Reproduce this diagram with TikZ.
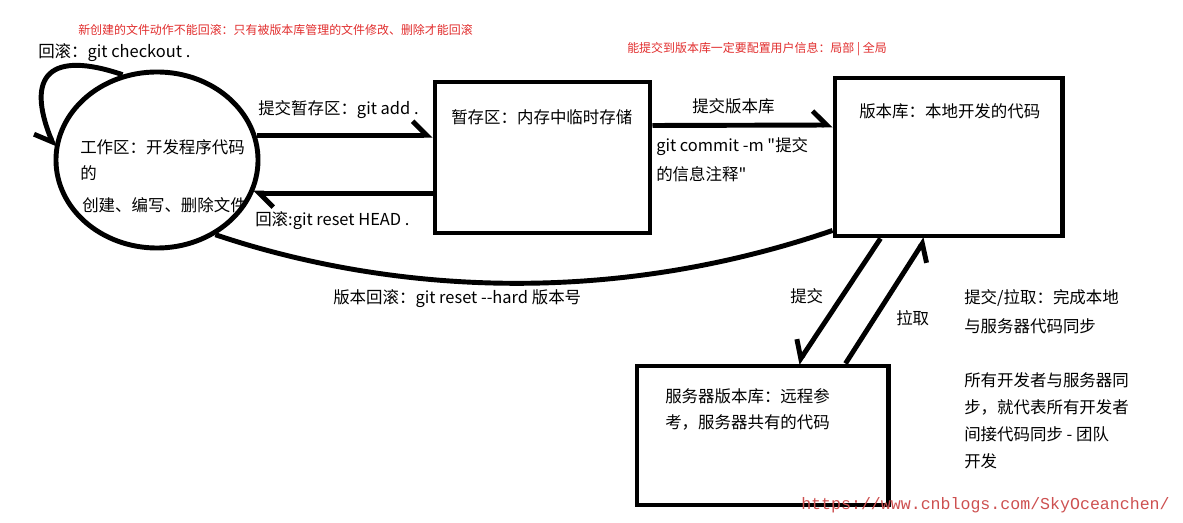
\documentclass[tikz,border=0pt]{standalone}
\usepackage{fontspec}
\setmainfont{Noto Sans CJK SC}[Ligatures=TeXOff]
\newfontfamily\urlfont{Liberation Mono}
\usepackage{tikz}
\usetikzlibrary{calc,shapes.geometric,arrows.meta}
\definecolor{notered}{RGB}{225,45,45}
\definecolor{markred}{RGB}{205,80,80}

\begin{document}
\begin{tikzpicture}[x=0.025cm, y=-0.025cm,
    box/.style={draw, line width=3.5pt, inner sep=0pt},
    txt/.style={anchor=west, inner sep=0pt, font=\fontsize{11.7}{14}\selectfont},
    warn/.style={anchor=west, inner sep=0pt, text=notered, font=\fontsize{8.5}{10}\selectfont},
    flow/.style={line width=3.5pt},
    tipl/.style={-{Straight Barb[left,length=3.5mm,width=7mm]}},
    tipr/.style={-{Straight Barb[right,length=3.5mm,width=7mm]}}]
  \useasboundingbox (0,0) rectangle (1183,523);

  % the three stores and the work area
  \node[box, ellipse, minimum width=5.05cm, minimum height=4.4cm] (work) at (157,160) {};
  \node[box, minimum width=5.375cm, minimum height=3.775cm] (stage) at (542.5,157.5) {};
  \node[box, minimum width=5.675cm, minimum height=3.95cm] (repo) at (948.5,157) {};
  \node[box, minimum width=6.275cm, minimum height=3.475cm] (server) at (762.5,435.5) {};

  % texts
  \node[warn] (newnote) at (78,30) {新创建的文件动作不能回滚：只有被版本库管理的文件修改、删除才能回滚};
  \node[warn] (usernote) at (627,49) {能提交到版本库一定要配置用户信息：局部 | 全局};
  \node[txt] (checkout) at (38,53) {回滚：git checkout .};
  \node[txt] (work1) at (80,147) {工作区：开发程序代码};
  \node[txt] (work2) at (80,173) {的};
  \node[txt] (work3) at (82,205) {创建、编写、删除文件};
  \node[txt] (addlbl) at (258,110) {提交暂存区：git add .};
  \node[txt] (stagelbl) at (451,117) {暂存区：内存中临时存储};
  \node[txt] (headlbl) at (255,221) {回滚:git reset HEAD .};
  \node[txt] (commitlbl) at (692,106) {提交版本库};
  \node[txt] (commit1) at (656,147) {git commit -m "提交};
  \node[txt] (commit2) at (656,174) {的信息注释"};
  \node[txt] (repolbl) at (859,111) {版本库：本地开发的代码};
  \node[txt] (hardlbl) at (333,299) {版本回滚：git reset --hard 版本号};
  \node[txt] (pushlbl) at (790,296) {提交};
  \node[txt] (pulllbl) at (896,318) {拉取};
  \node[txt] (sync1) at (964,298) {提交/拉取：完成本地};
  \node[txt] (sync2) at (964,326) {与服务器代码同步};
  \node[txt] (team1) at (964,380) {所有开发者与服务器同};
  \node[txt] (team2) at (964,407) {步，就代表所有开发者};
  \node[txt] (team3) at (964,434) {间接代码同步 - 团队};
  \node[txt] (team4) at (964,461) {开发};
  \node[txt] (server1) at (665,396) {服务器版本库：远程参};
  \node[txt] (server2) at (665,422) {考，服务器共有的代码};

  % connectors
  \draw[flow, tipr] (work.112) .. controls (50,50) and (25,75) .. (work.173);
  \draw[flow, tipl] (work.14.5) -- (work.14.5 -| stage.west);
  \draw[flow, tipl] (work.-19 -| stage.west) -- (work.-19);
  \draw[flow, tipl] ($(stage.east)+(0,-32)$) -- ($(repo.west)+(0,-32)$);
  \draw[flow] ($(repo.south west)+(0,-8)$) .. controls (600,310) and (380,290) .. (work.-52);
  \draw[flow, tipr] ($(repo.south west)+(48,0)$) -- ($(server.north west)+(163,0)$);
  \draw[flow, tipr] ($(server.north west)+(211,0)$) -- ($(repo.south west)+(93,0)$);

  \node[anchor=west, inner sep=0pt, text=markred, font=\urlfont\fontsize{11.8}{14}\selectfont] (mark) at (801,505) {https://www.cnblogs.com/SkyOceanchen/};
\end{tikzpicture}
\end{document}
